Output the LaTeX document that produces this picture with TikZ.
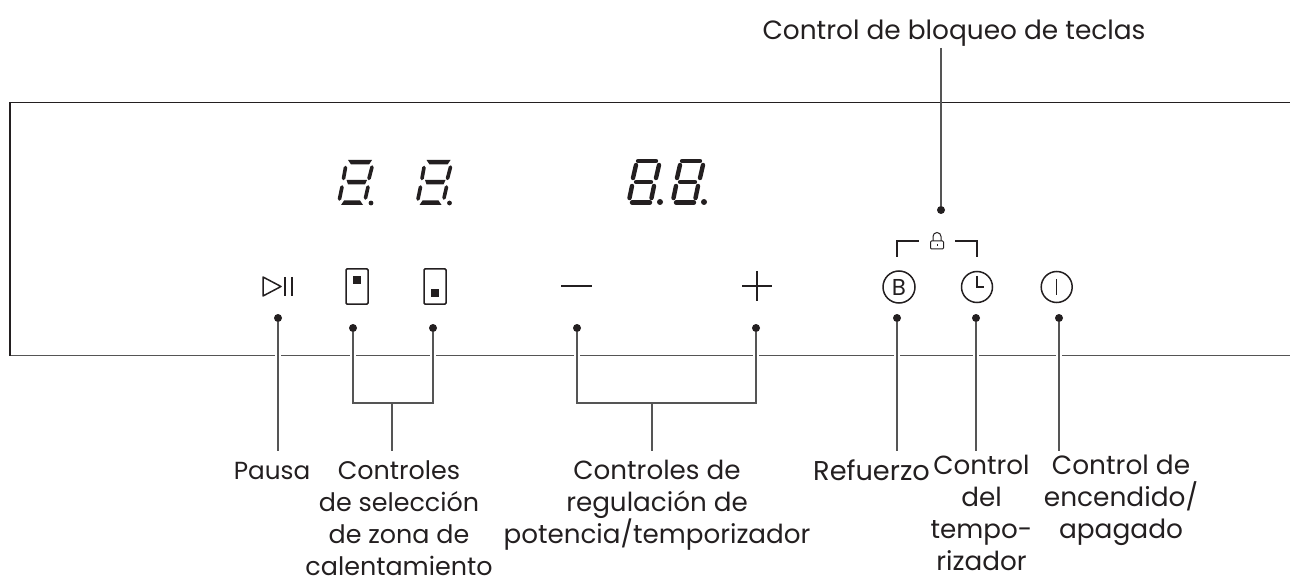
\documentclass[tikz,border=0pt]{standalone}
\usepackage{fontspec}
\setmainfont{Poppins}
\definecolor{ink}{HTML}{231F20}
\definecolor{lead}{HTML}{555555}
\tikzset{
  x=1pt,y=-1pt,
  leader/.style={draw=lead,line width=1.1pt},
  iconline/.style={draw=ink,line width=1.5pt},
  lockline/.style={draw=ink,line width=1pt},
  dotnode/.style={circle,fill=ink,inner sep=0pt,minimum size=8pt},
  lab/.style={font=\fontsize{#1}{32}\selectfont,text=ink,align=center,inner sep=0pt,anchor=base},
  lab/.default=25,
  segA/.style={line width=3.6pt,draw=ink,line cap=round},
  segB/.style={line width=4.4pt,draw=ink,line cap=round},
}
\newcommand{\smalldigit}[2]{%
  \begin{scope}[shift={(#1,#2)}]
   \fill[ink] (18,-1)--(42,-1)--(39,3.5)--(21,3.5)--cycle;
   \fill[ink] (16.5,19)--(37,19)--(35,23.5)--(18,23.5)--cycle;
   \fill[ink] (11,44)--(33,44)--(30,39.5)--(14,39.5)--cycle;
   \draw[segA] (15.5,6.5)--(13.5,17.5);
   \draw[segA] (42,6)--(39,17.5);
   \draw[segA] (12,26)--(9.5,38);
   \draw[segA] (38,26)--(35.5,37);
   \fill[ink] (41,42) circle (2.4pt);
  \end{scope}}
\newcommand{\bigdigit}[2]{%
  \begin{scope}[shift={(#1,#2)}]
   \draw[segB] (18,0)--(36,0);
   \draw[segB] (16,21)--(31,21);
   \draw[segB] (12,41.5)--(30,41.5);
   \draw[segB] (16,4)--(13,17);
   \draw[segB] (39,4)--(36,17);
   \draw[segB] (12,25)--(9.5,37);
   \draw[segB] (34,25)--(31.5,37);
   \fill[ink] (40,41) circle (3pt);
  \end{scope}}
\begin{document}
\begin{tikzpicture}
\useasboundingbox (0,0) rectangle (1290,577);
% panel
\draw[draw=ink,line width=1pt] (10,103)--(1290,103);
\draw[draw=lead,line width=1.1pt] (10,355.3)--(1290,355.3);
\draw[draw=ink,line width=2.6pt] (10,102.5)--(10,356);
% displays
\smalldigit{330}{161}
\smalldigit{408.5}{161}
\bigdigit{620}{161}
\bigdigit{664}{161}
% icons
\draw[iconline,line join=round] (263,277)--(263,296)--(281,286.5)--cycle;
\draw[iconline] (285,277)--(285,296) (292,277)--(292,296);
\draw[iconline,rounded corners=1pt] (346,269) rectangle (368,304);
\fill[ink] (353.3,276) rectangle (361.3,284);
\draw[iconline,rounded corners=1pt] (424,269) rectangle (446,304);
\fill[ink] (431,289) rectangle (439,297);
\draw[iconline] (561,286)--(592,286);
\draw[iconline] (742,286)--(772,286) (757,271)--(757,301);
\draw[iconline] (899,287) circle (16);
\node[font=\fontsize{23}{23}\selectfont,text=ink,inner sep=0pt] (Bkey) at (899,287) {B};
\draw[iconline] (977,287) circle (15.5);
\draw[iconline] (977,276)--(977,287)--(984,287);
\draw[iconline] (1056.7,287) circle (15.5);
\draw[iconline] (1056.7,279)--(1056.7,295);
\draw[iconline] (897,257)--(897,241)--(919,241);
\draw[iconline] (955,241)--(977,241)--(977,257);
\draw[lockline,rounded corners=1pt] (930.5,241) rectangle (943.5,249);
\draw[lockline] (933,241)--(933,236.5) arc[start angle=180,end angle=360,radius=4]--(941,241);
\draw[lockline] (937,244)--(937,246);
% dots
\node[dotnode] (dP) at (278,318) {};
\node[dotnode] (dZ1) at (353,328) {};
\node[dotnode] (dZ2) at (433,328) {};
\node[dotnode] (dM) at (577,328) {};
\node[dotnode] (dPl) at (756,328) {};
\node[dotnode] (dB) at (897,318) {};
\node[dotnode] (dT) at (976,318) {};
\node[dotnode] (dO) at (1059,318) {};
\node[dotnode] (dL) at (941,210) {};
% free ends
\coordinate (eP) at (278,451);
\coordinate (eB) at (897,451);
\coordinate (eT) at (976,451);
\coordinate (eO) at (1059,451);
\coordinate (eL) at (941,48);
\coordinate (bZ1) at (353,403);
\coordinate (bZ2) at (433,403);
\coordinate (sZ) at (392,403);
\coordinate (sZe) at (392,451);
\coordinate (bM) at (577,403);
\coordinate (bPl) at (756,403);
\coordinate (sM) at (652,403);
\coordinate (sMe) at (652,451);
% white gaps where leaders cross the panel edge
\foreach \xx in {278,353,433,577,756,897,976,1059}
  \draw[draw=white,line width=1.8pt] (\xx-3.2,355.3)--(\xx+3.2,355.3);
% connectors
\draw[leader] (dP)--(eP);
\draw[leader] (dZ1)--(bZ1)--(bZ2)--(dZ2);
\draw[leader] (sZ)--(sZe);
\draw[leader] (dM)--(bM)--(bPl)--(dPl);
\draw[leader] (sM)--(sMe);
\draw[leader] (dB)--(eB);
\draw[leader] (dT)--(eT);
\draw[leader] (dO)--(eO);
\draw[leader] (eL)--(dL);
% labels
\node[lab=26.4] (tL) at (954,40) {Control de bloqueo de teclas};
\node[lab=24.7] (tP) at (272,479) {Pausa};
\node[lab=25.4] (tZ) at (399,575) {Controles\\de selección\\de zona de\\calentamiento};
\node[lab=26.2] (tM) at (657,543) {Controles de\\regulación de\\potencia/temporizador};
\node[lab=27.2] (tB) at (871.5,480) {Refuerzo};
\node[lab=26.2] (tT) at (981.5,570) {Control\\del\\tempo-\\rizador};
\node[lab=26.4] (tO) at (1121,538) {Control de\\encendido/\\apagado};
\end{tikzpicture}
\end{document}
